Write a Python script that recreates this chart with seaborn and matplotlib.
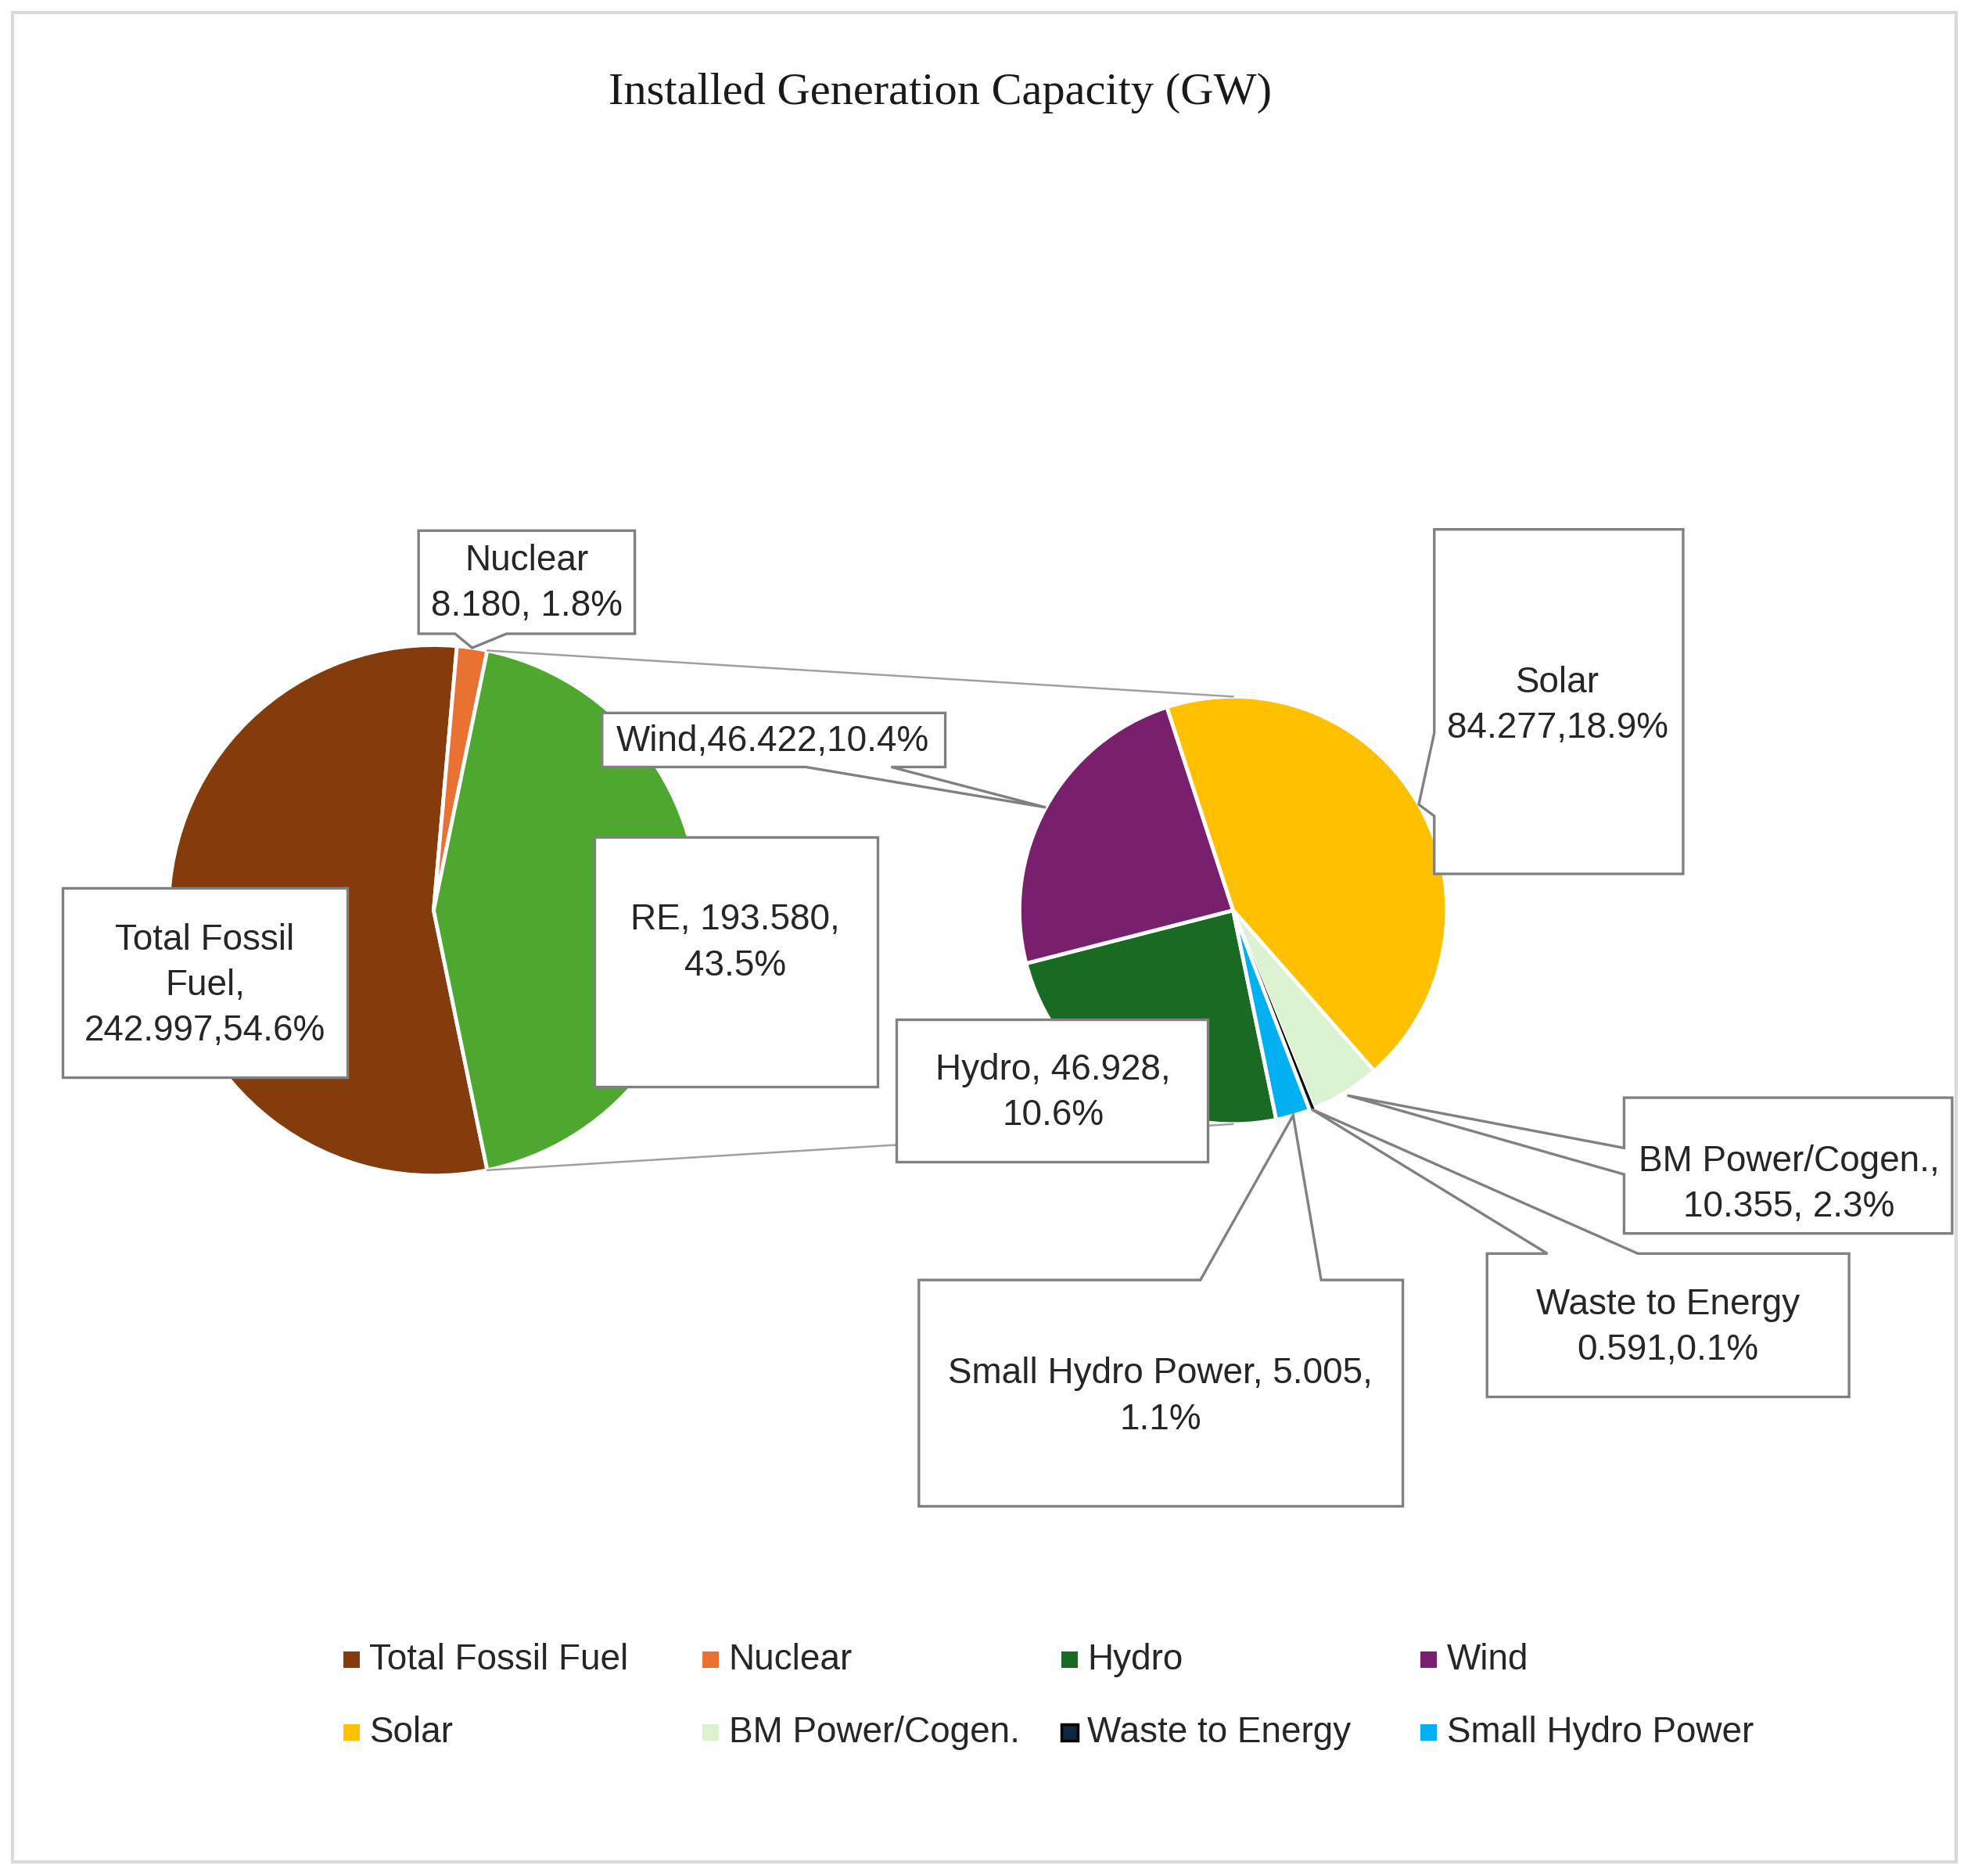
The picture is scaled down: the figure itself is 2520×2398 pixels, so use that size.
import matplotlib
matplotlib.use('Agg')
import matplotlib.pyplot as plt
from matplotlib.patches import Polygon, Rectangle
import numpy as np
import seaborn as sns

sns.set_theme(style='white')
plt.rcParams['font.family'] = ['Liberation Sans', 'DejaVu Sans']

# --- data (GW) ---
main_names = ['Total Fossil Fuel', 'Nuclear', 'RE']
main_values = [242.997, 8.180, 193.580]
re_names = ['Hydro', 'Wind', 'Solar', 'BM Power/Cogen.', 'Waste to Energy', 'Small Hydro Power']
re_values = [46.928, 46.422, 84.277, 10.355, 0.591, 5.005]
legend_names = ['Total Fossil Fuel', 'Nuclear', 'Hydro', 'Wind',
                'Solar', 'BM Power/Cogen.', 'Waste to Energy', 'Small Hydro Power']

# label texts, filled from the values above
label_fmt = {
    'Total Fossil Fuel': 'Total Fossil\nFuel,\n{v:.3f},{p:.1f}%',
    'Nuclear': 'Nuclear\n{v:.3f}, {p:.1f}%',
    'RE': 'RE, {v:.3f},\n{p:.1f}%',
    'Hydro': 'Hydro, {v:.3f},\n{p:.1f}%',
    'Wind': 'Wind,{v:.3f},{p:.1f}%',
    'Solar': 'Solar\n{v:.3f},{p:.1f}%',
    'BM Power/Cogen.': 'BM Power/Cogen.,\n{v:.3f}, {p:.1f}%',
    'Waste to Energy': 'Waste to Energy\n{v:.3f},{p:.1f}%',
    'Small Hydro Power': 'Small Hydro Power, {v:.3f},\n{p:.1f}%',
}

colors = {
    'Total Fossil Fuel': '#843C0C', 'Nuclear': '#E97132', 'RE': '#4EA72E',
    'Hydro': '#196B24', 'Wind': '#78206E', 'Solar': '#FFC000',
    'BM Power/Cogen.': '#DAF2D0', 'Waste to Energy': '#0E2841',
    'Small Hydro Power': '#00B0F0',
}

W, H = 1568, 1492          # drawing units (picture pixels)
def Y(y):                  # picture y (down) -> axes y (up)
    return H - y

TXT = '#262626'
GREY = '#808080'
FS = 33

fig = plt.figure(figsize=(25.2, 23.98), dpi=100)
ax = fig.add_axes([0, 0, 1, 1])

total = sum(main_values)
start = -main_values[2] / total * 180   # "other" slice centred at 3 o'clock

L_c, L_r = (345, Y(724)), 211
R_c, R_r = (981, Y(724)), 170

w1, _ = ax.pie(main_values, colors=[colors[n] for n in main_names],
               startangle=start, counterclock=False, center=L_c, radius=L_r,
               wedgeprops=dict(edgecolor='white', linewidth=3.5))
w2, _ = ax.pie(re_values, colors=[colors[n] for n in re_names],
               startangle=start, counterclock=False, center=R_c, radius=R_r,
               wedgeprops=dict(edgecolor='white', linewidth=3.5))
w2[re_names.index('Waste to Energy')].set_edgecolor('black')
w2[re_names.index('Waste to Energy')].set_linewidth(1.5)
for w in list(w1) + list(w2):
    w.set_zorder(1)

def edge_point(c, r, ang):
    a = np.deg2rad(ang)
    return (c[0] + r * np.cos(a), c[1] + r * np.sin(a))

def mid_point(wedge, c, r):
    return edge_point(c, r, (wedge.theta1 + wedge.theta2) / 2)

# series lines between the two pies
re_w = w1[2]
for ang, ry in [(re_w.theta2, R_c[1] + R_r), (re_w.theta1, R_c[1] - R_r)]:
    p = edge_point(L_c, L_r, ang)
    ax.plot([p[0], R_c[0]], [p[1], ry], color='#A0A0A0', lw=1.8, zorder=2)

def callout(box, side=None, a=None, b=None, tip=None):
    x0, y0, x1, y1 = box
    pts = [(x0, Y(y0))]
    if side == 'top':
        pts += [(a, Y(y0)), tip, (b, Y(y0))]
    pts.append((x1, Y(y0)))
    if side == 'right':
        pts += [(x1, Y(a)), tip, (x1, Y(b))]
    pts.append((x1, Y(y1)))
    if side == 'bottom':
        pts += [(b, Y(y1)), tip, (a, Y(y1))]
    pts.append((x0, Y(y1)))
    if side == 'left':
        pts += [(x0, Y(b)), tip, (x0, Y(a))]
    ax.add_patch(Polygon(pts, closed=True, facecolor='white', edgecolor=GREY,
                         lw=2.4, zorder=3, joinstyle='miter'))

def put_text(name, value, x, y):
    s = label_fmt[name].format(v=value, p=value / total * 100)
    ax.text(x, Y(y + 2), s, ha='center', va='center', fontsize=FS, color=TXT,
            linespacing=1.42, zorder=4)

# first pie labels
val = dict(zip(main_names, main_values))
val.update(zip(re_names, re_values))

callout((50, 706, 276, 857))
put_text('Total Fossil Fuel', val['Total Fossil Fuel'], 163, 782)
callout((333, 422, 505, 504), 'bottom', 362, 403, mid_point(w1[1], L_c, L_r))
put_text('Nuclear', val['Nuclear'], 419, 462)
callout((473, 666, 698, 864))
put_text('RE', val['RE'], 585, 748)

# second pie labels
wi = {n: w for n, w in zip(re_names, w2)}
callout((479, 567, 752, 610), 'bottom', 641, 709, mid_point(wi['Wind'], R_c, R_r))
put_text('Wind', val['Wind'], 615, 588)
callout((1141, 421, 1339, 695), 'left', 583, 649, mid_point(wi['Solar'], R_c, R_r))
put_text('Solar', val['Solar'], 1239, 559)
callout((713, 811, 961, 924))
put_text('Hydro', val['Hydro'], 838, 867)
callout((1292, 873, 1553, 981), 'left', 913, 934, mid_point(wi['BM Power/Cogen.'], R_c, R_r + 3))
put_text('BM Power/Cogen.', val['BM Power/Cogen.'], 1423, 940)
callout((1183, 997, 1471, 1111), 'top', 1231, 1303, mid_point(wi['Waste to Energy'], R_c, R_r))
put_text('Waste to Energy', val['Waste to Energy'], 1327, 1054)
callout((731, 1018, 1116, 1198), 'top', 955, 1051, mid_point(wi['Small Hydro Power'], R_c, R_r))
put_text('Small Hydro Power', val['Small Hydro Power'], 923, 1109)

# title
ax.text(748, Y(74), 'Installed Generation Capacity (GW)', ha='center', va='center',
        fontsize=42, color='#1a1a1a', family=['Liberation Serif', 'DejaVu Serif'])

# legend, 2 rows x 4 columns
for i, name in enumerate(legend_names):
    col, row = i % 4, i // 4
    x = 273 + col * 285.6
    y = Y(1320 + row * 58)
    ec = 'black' if name == 'Waste to Energy' else 'none'
    ax.add_patch(Rectangle((x, y - 6.5), 13, 13, facecolor=colors[name],
                           edgecolor=ec, lw=2.5, zorder=3))
    ax.text(x + 21, y, name, ha='left', va='center', fontsize=FS, color=TXT, zorder=4)

# chart border
ax.add_patch(Rectangle((10, Y(1481)), 1546, 1471, fill=False,
                       edgecolor='#D9D9D9', lw=3, zorder=5))

ax.set_xlim(0, W)
ax.set_ylim(0, H)
ax.set_aspect('equal')
ax.axis('off')

fig.savefig('out.png', dpi=100, facecolor='white')
